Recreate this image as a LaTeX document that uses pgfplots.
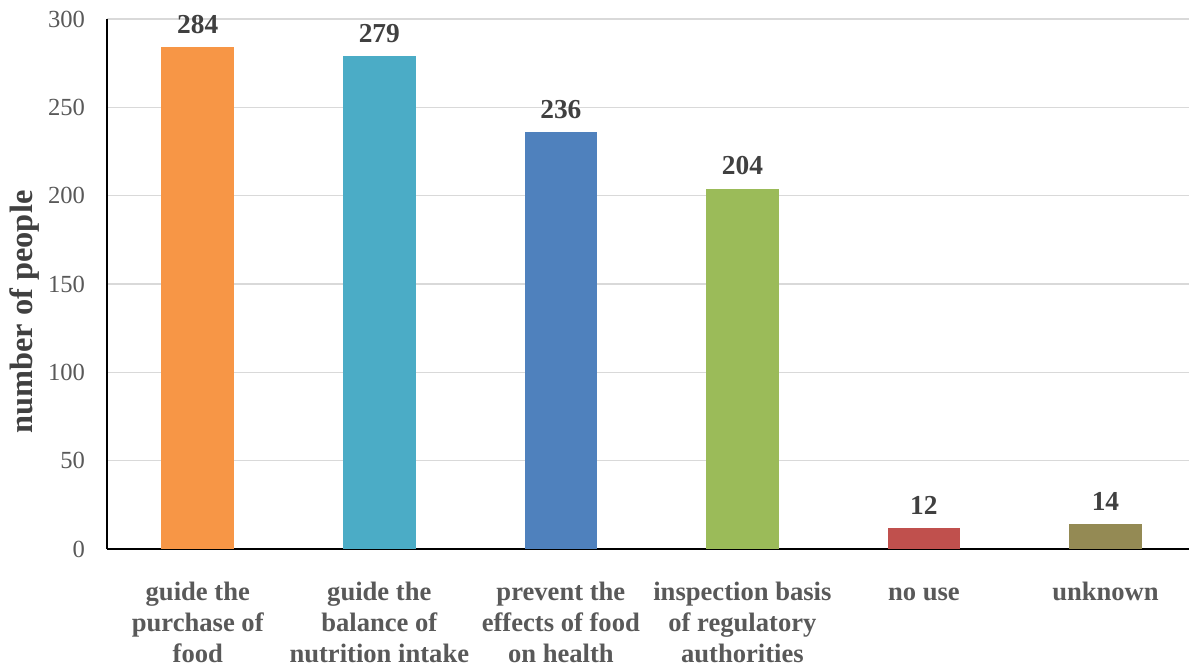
\documentclass[border=0pt]{standalone}
\usepackage{fontspec}
\setmainfont{Liberation Serif}
\usepackage{pgfplots}
\pgfplotsset{compat=1.18}
\definecolor{cOrange}{HTML}{F79646}
\definecolor{cTeal}{HTML}{4BACC6}
\definecolor{cBlue}{HTML}{4F81BD}
\definecolor{cGreen}{HTML}{9BBB59}
\definecolor{cRed}{HTML}{C0504D}
\definecolor{cOlive}{HTML}{948A54}
\definecolor{tickgray}{HTML}{595959}
\definecolor{lblgray}{HTML}{404040}
\definecolor{gridgray}{HTML}{D9D9D9}
\begin{document}
\begin{tikzpicture}
\begin{axis}[
  scale only axis,
  width=541pt, height=265pt,
  ymin=0, ymax=300,
  xmin=-0.5, xmax=5.46,
  ytick={0,50,...,300},
  xtick={0,1,2,3,4,5},
  xticklabels={{\strut guide the\\purchase of\\food},{\strut guide the\\balance of\\nutrition intake},{\strut prevent the\\effects of food\\on health},{\strut inspection basis\\of regulatory\\authorities},{\strut no use},{\strut unknown}},
  xticklabel style={align=center, font=\fontsize{13.3}{15.5}\selectfont\bfseries, text=tickgray, inner sep=0pt, anchor=north, yshift=-14.5pt},
  yticklabel style={font=\fontsize{12.3}{14}\selectfont, text=tickgray, xshift=-7.5pt},
  /pgf/number format/assume math mode=true,
  major tick length=0pt,
  axis x line*=bottom,
  axis y line*=left,
  axis line style={black, line width=1pt},
  ymajorgrids,
  grid style={gridgray, line width=0.8pt},
  ylabel={number of people},
  ylabel style={font=\fontsize{16.2}{18}\selectfont\bfseries, text=lblgray, at={(axis description cs:-0.0758,0.447)}, anchor=center},
  ybar, bar width=0.4, bar shift=0pt,
  nodes near coords,
  every node near coord/.append style={font=\fontsize{13.7}{16}\selectfont\bfseries, text=lblgray, inner sep=0pt, yshift=6.5pt, anchor=south},
  clip=false,
]
\addplot[fill=cOrange, draw=none] coordinates {(0,284)};
\addplot[fill=cTeal, draw=none] coordinates {(1,279)};
\addplot[fill=cBlue, draw=none] coordinates {(2,236)};
\addplot[fill=cGreen, draw=none] coordinates {(3,204)};
\addplot[fill=cRed, draw=none] coordinates {(4,12)};
\addplot[fill=cOlive, draw=none] coordinates {(5,14)};
\coordinate (bl) at ([xshift=-53.5pt,yshift=-58.5pt]rel axis cs:0,0);
\coordinate (tr) at ([yshift=9.5pt]rel axis cs:1,1);
\end{axis}
\pgfresetboundingbox
\useasboundingbox (bl) rectangle (tr);
\end{tikzpicture}
\end{document}
